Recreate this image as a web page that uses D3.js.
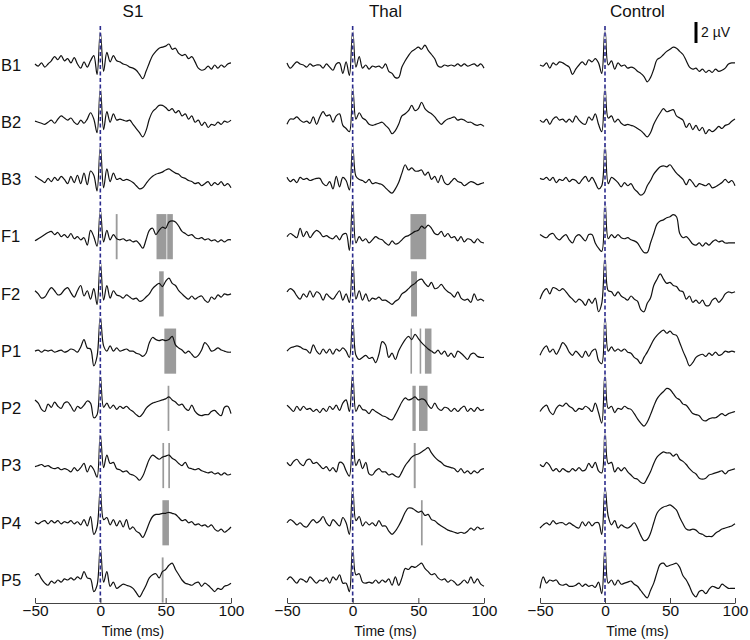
<!DOCTYPE html>
<html>
<head>
<meta charset="utf-8">
<script src="https://cdn.jsdelivr.net/npm/d3@7"></script>
<style>
  body { margin: 0; background: #fff; }
  text { font-family: "Liberation Sans", Arial, sans-serif; fill: #111; }
</style>
</head>
<body>
<div id="chart"></div>
<script>
// rows, panels and axis ticks
const rows = ["B1", "B2", "B3", "F1", "F2", "P1", "P2", "P3", "P4", "P5"];
const panels = ["S1", "Thal", "Control"];
const tickValues = [-50, 0, 50, 100];

// sampling grid of the averaged traces (ms), values below are in µV
const times = d3.range(-50, 100.01, 2.5);

// S1
const s1B1 = [0.1, -0.1, 0.2, -0.2, 0.1, 0.4, 0.8, 0.5, 0.9, 0.4,
  0.6, 0.2, 0.7, 0.1, -0.3, 0.3, -0.2, 0.4, 0.9, -0.9,
  3.2, -0.6, 1.2, 0.3, 0.9, 0.4, 0.3, 0.1, 0.0, -0.2,
  -0.3, -0.5, -0.9, -1.3, -0.6, 0.2, 0.9, 1.3, 1.6, 1.7,
  1.8, 2.0, 1.5, 1.6, 1.1, 0.9, 1.0, 0.6, 0.8, 0.3,
  -0.3, -0.5, -0.4, -0.1, -0.4, 0.0, -0.3, 0.0, -0.2, 0.1, 0.2];
const s1B2 = [0.1, 0.0, -0.1, -0.2, 0.0, 0.2, -0.1, 0.3, 0.6, 0.4,
  0.2, 0.4, 0.0, -0.2, 0.2, -0.1, 0.3, 0.9, 0.3, -1.0,
  3.3, -0.7, 1.0, 0.0, 0.8, 0.2, 0.3, 0.2, 0.1, 0.2,
  -0.2, -0.6, -1.0, -1.4, -0.8, 0.3, 1.0, 1.3, 1.6, 1.6,
  1.4, 1.1, 1.3, 0.9, 1.1, 0.6, 0.8, 0.3, 0.6, 0.0,
  0.2, -0.3, 0.0, -0.5, -0.2, -0.3, 0.0, -0.2, 0.1, 0.0, 0.2];
const s1B3 = [0.3, 0.1, -0.1, -0.3, 0.1, -0.2, 0.2, -0.1, 0.3, 0.0,
  -0.4, 0.3, -0.3, 0.4, -0.4, 0.6, -0.5, 0.8, 0.4, -1.1,
  3.2, -0.8, 1.0, -0.2, 0.6, 0.0, 0.1, -0.1, 0.0, -0.1,
  -0.3, -0.6, -0.9, -0.8, -0.4, 0.0, 0.3, 0.5, 0.6, 0.7,
  0.9, 1.0, 0.8, 0.6, 0.5, 0.2, 0.1, -0.1, -0.2, -0.4,
  -0.3, -0.6, -0.4, -0.2, -0.6, -0.3, -0.5, -0.2, -0.6, -0.4, -0.8];
const s1F1 = [-0.4, -0.2, 0.0, 0.2, 0.4, 0.5, 0.2, 0.4, 0.0, 0.2,
  -0.1, 0.3, -0.2, 0.0, -0.3, -0.1, -0.8, 0.6, 0.0, -0.9,
  2.6, -0.5, 0.6, -0.3, 0.2, -0.2, -0.3, -0.2, -0.4, -0.3,
  -0.5, -0.4, -0.7, -1.1, -0.3, 0.6, 0.8, 0.2, 0.6, 0.9,
  0.8, 1.4, 1.5, 1.4, 1.0, 0.5, 0.3, 0.1, 0.2, -0.1,
  -0.2, -0.1, -0.3, -0.2, -0.4, -0.3, -0.5, -0.3, -0.5, -0.3, -0.3];
const s1F2 = [0.3, 0.0, -0.4, -0.3, 0.2, 0.6, 0.3, -0.1, 0.0, 0.4,
  0.6, 0.1, -0.3, 0.3, 0.8, -0.2, 0.3, -0.5, 0.5, -1.0,
  3.1, -0.6, 0.8, -0.4, 0.3, -0.1, -0.2, -0.4, -0.1, -0.3,
  -0.5, -0.4, -0.7, -0.6, -0.3, 0.0, 0.5, 0.8, 1.0, 0.7,
  1.2, 1.5, 1.0, 0.8, 0.3, 0.0, -0.3, -0.5, -0.2, -0.5,
  -0.3, -0.2, -0.6, -0.8, -0.3, -0.5, -0.1, -0.3, 0.0, -0.1, 0.0];
const s1P1 = [0.0, 0.1, -0.1, 0.1, 0.0, 0.1, -0.1, 0.0, 0.1, -0.1,
  0.0, 0.2, 0.1, -0.1, 0.4, 1.1, 0.3, 0.2, -1.4, -0.5,
  3.3, 0.5, 0.0, 0.5, 0.0, 0.3, 0.0, 0.1, 0.2, 0.0,
  0.0, -0.2, -0.3, -0.5, -0.2, 0.8, 1.3, 1.1, 1.0, 1.1,
  1.0, 1.1, 1.4, 0.6, 0.3, 0.1, -0.2, 0.0, -0.3, -0.6,
  -0.4, 0.1, 0.8, 0.5, 0.0, 0.1, 0.3, 0.1, 0.0, -0.1, -0.1];
const s1P2 = [0.8, 0.5, -0.1, -0.3, 0.4, 0.1, 0.6, 0.2, 0.0, 0.5,
  0.6, 0.2, -0.3, 0.2, 0.0, 0.3, 0.7, 0.5, -0.9, -0.6,
  3.2, 0.1, 0.5, 0.0, 0.3, -0.1, 0.2, 0.0, 0.2, -0.1,
  -0.3, -0.6, -0.8, -0.5, 0.0, 0.3, 0.5, 0.6, 0.7, 0.8,
  0.9, 1.1, 0.8, 0.6, 0.3, 0.4, 0.0, -0.2, 0.3, -0.3,
  -0.6, -0.7, -0.6, -0.6, -0.3, -0.2, -0.5, -0.7, 0.1, 0.2, -0.5];
const s1P3 = [-0.1, 0.0, 0.1, -0.1, 0.0, -0.2, -0.3, -0.2, -0.4, -0.3,
  -0.4, -0.6, -0.2, -0.5, -0.2, 0.2, -0.6, 0.0, -0.4, -1.1,
  3.0, -0.2, 1.0, 0.2, 0.3, -0.3, -0.4, -0.6, -0.5, -0.8,
  -0.9, -1.1, -1.4, -1.0, -0.2, 0.6, 1.0, 0.8, 0.6, 0.8,
  0.9, 1.0, 0.7, 0.5, 0.2, 0.0, 0.3, -0.2, -0.3, -0.4,
  -0.3, -0.5, -0.6, -0.7, -0.6, -0.8, -0.7, -0.9, -0.7, -0.9, -0.8];
const s1P4 = [0.1, -0.1, 0.1, 0.2, -0.1, 0.2, 0.0, 0.2, -0.1, 0.1,
  0.0, 0.2, -0.1, 0.1, -0.2, 0.3, -0.3, 0.6, -1.1, -0.4,
  3.2, 0.3, 0.5, -0.2, 0.3, -0.3, 0.2, -0.4, 0.3, -0.6,
  -0.4, -0.8, -1.0, -1.4, -0.8, 0.0, 0.6, 0.8, 0.8, 0.9,
  0.9, 1.0, 0.9, 0.8, 0.5, 0.2, 0.3, 0.0, 0.1, -0.2,
  -0.1, -0.3, -0.2, -0.4, -0.2, -0.6, -0.8, -0.6, -0.9, -0.7, -0.4];
const s1P5 = [0.4, 0.6, 0.1, -0.3, -0.5, -0.1, -0.3, 0.0, -0.2, 0.1,
  0.0, 0.2, 0.0, 0.3, 0.1, 0.8, 0.2, 0.1, -1.1, -0.5,
  3.2, -0.2, 0.8, -0.6, -0.2, -0.8, -0.6, -0.4, -0.5, -0.6,
  -0.8, -1.2, -1.6, -1.1, -0.5, 0.2, 0.5, 0.6, 0.2, 0.8,
  1.0, 1.4, 1.6, 1.0, 0.5, 0.0, -0.3, -0.4, -0.5, -0.3,
  -0.2, -0.6, -0.3, -0.5, -0.8, -1.1, -0.8, -0.9, -0.6, -0.5, -0.3];

// Thal
const thB1 = [0.2, -0.3, 0.0, 0.3, 0.1, 0.0, -0.2, 0.1, -0.1, 0.0,
  0.0, -0.3, 0.1, -0.2, -0.5, 0.1, 0.2, -0.8, 0.3, -1.0,
  3.3, -0.2, 0.8, -0.3, 0.0, -0.4, -0.1, -0.2, -0.1, -0.3,
  0.1, -0.6, -0.8, -1.2, -1.2, -0.2, 0.4, 0.9, 1.3, 1.5,
  1.7, 1.5, 1.9, 1.4, 1.0, 0.6, -0.1, -0.2, 0.0, -0.1,
  0.0, -0.1, 0.1, -0.1, 0.1, -0.1, 0.0, 0.1, -0.1, 0.1, -0.3];
const thB2 = [-0.2, 0.3, 0.3, 0.5, 0.2, 0.0, 0.1, -0.1, 0.5, -0.2,
  0.5, 1.0, 0.6, 0.7, 0.0, 0.6, 0.8, -0.3, -0.6, -0.9,
  3.4, 0.3, 0.9, 0.4, 0.2, -0.2, -0.3, -0.2, -0.1, 0.0,
  -0.3, -0.6, -1.1, -0.8, -0.2, 0.6, 0.8, 1.1, 1.6, 1.1,
  1.3, 1.9, 1.3, 1.0, 0.8, 0.5, 0.1, -0.2, 0.1, 0.3,
  0.4, 0.5, 0.2, 0.3, 0.2, 0.0, 0.0, -0.2, -0.3, -0.2, -0.4];
const thB3 = [0.2, -0.2, 0.0, -0.3, 0.2, 0.0, 0.1, -0.1, 0.0, 0.1,
  0.1, -0.4, -0.6, -0.2, -0.9, 0.3, -0.7, 0.2, -0.1, -1.0,
  3.3, 0.3, 0.0, -0.1, -0.3, 0.0, -0.4, -0.3, -0.4, -0.5,
  -0.8, -1.1, -1.3, -0.9, -0.3, 0.6, 1.4, 0.9, 1.1, 0.8,
  0.8, 0.9, 0.4, 0.7, 0.0, 0.3, -0.3, 0.4, -0.3, -0.5,
  -0.2, 0.1, -0.2, -0.3, -0.6, -0.4, -0.2, -0.3, -0.5, -0.4, -0.3];
const thF1 = [0.0, 0.3, 0.1, -0.1, 0.8, 0.0, 0.5, -0.1, 0.3, 0.6,
  0.4, 0.0, 0.1, -0.1, -0.2, 0.1, -0.3, 0.2, 0.3, -1.3,
  3.6, -0.6, 0.0, -0.4, -0.2, -0.6, -0.3, 0.0, -0.2, -0.3,
  -0.6, -0.8, -0.4, -0.7, -0.6, -0.3, 0.0, 0.1, 0.3, 0.5,
  0.6, 1.0, 0.8, 1.1, 0.8, 0.3, 0.2, 0.5, 0.0, 0.3,
  -0.1, 0.0, -0.4, 0.0, -0.5, -0.2, -0.3, -0.6, -0.2, -0.5, -0.6];
const thF2 = [0.2, 0.5, 0.3, -0.2, -0.5, 0.0, -0.3, 0.3, -0.3, 0.2,
  0.0, -0.6, 0.0, -0.3, -0.5, -0.1, 0.3, -0.6, 0.0, -0.8,
  3.4, -0.5, 0.3, -0.6, 0.0, -0.7, -0.4, -0.5, -0.3, -0.6,
  -0.6, -0.8, -1.0, -0.7, -0.5, 0.0, 0.2, 0.5, 0.8, 1.0,
  1.3, 1.4, 1.0, 0.7, 1.1, 0.5, 0.6, 0.9, 0.5, 0.2,
  0.0, -0.3, 0.2, -0.4, -0.6, -0.5, -0.8, 0.0, -0.6, -0.5, -0.7];
const thP1 = [0.0, 0.3, 0.4, 0.5, 0.4, 0.2, 0.1, -0.2, 0.6, 0.0,
  -0.3, 0.2, -0.2, 0.2, -0.3, 0.2, 0.0, 0.3, 0.0, -0.6,
  3.2, -0.4, -0.8, -0.6, -0.4, -0.7, -0.6, -1.1, -0.3, 0.9,
  0.6, -0.6, -0.2, -0.8, 0.0, 0.6, 1.1, 1.4, 1.1, 1.6,
  1.2, 0.8, 0.5, 0.2, 0.0, -0.2, 0.1, -0.3, 0.0, -0.5,
  -0.2, -0.6, 0.0, -0.2, -0.5, -0.8, -0.3, -0.2, -0.5, -0.6, -0.6];
const thP2 = [0.3, 0.0, -0.3, 0.2, -0.2, 0.2, -0.1, 0.0, -0.3, -0.1,
  -0.4, 0.0, -0.3, 0.2, -0.1, 0.3, -0.2, 0.5, 0.8, -0.3,
  3.3, -0.3, 0.3, -0.1, -0.2, -0.5, -0.1, -0.3, -0.5, -0.7,
  -0.8, -1.0, -1.1, -0.6, 0.0, 0.6, 1.0, 0.8, 0.9, 1.1,
  0.8, 0.9, 0.8, 0.3, 0.0, 0.5, 0.0, -0.2, 0.1, 0.0,
  -0.3, 0.0, -0.3, 0.0, 0.2, -0.3, 0.0, -0.3, 0.1, -0.2, -0.1];
const thP3 = [0.3, 0.0, 0.4, 0.6, 0.2, 0.0, 0.5, 0.6, 0.2, 0.3,
  0.0, -0.3, -0.1, -0.5, -0.2, -0.6, 0.3, 0.2, -0.5, -1.0,
  3.2, 0.0, 0.6, -0.3, 0.3, -0.8, -0.9, -0.5, -0.3, -0.6,
  -0.6, -0.9, -0.8, -1.0, -1.1, -0.6, 0.0, 0.4, 0.8, 1.0,
  1.1, 1.3, 1.5, 1.7, 1.2, 0.8, 0.5, 0.3, 0.0, -0.1,
  -0.2, -0.3, -0.6, -0.3, -0.7, -0.5, -0.8, -0.5, -0.7, -0.4, -0.3];
const thP4 = [0.0, 0.3, 0.1, -0.2, 0.0, -0.3, -0.4, 0.0, 0.3, 0.0,
  0.2, 0.6, 0.0, -0.3, 0.3, 0.0, -0.3, 0.5, 0.0, -1.1,
  3.4, 0.2, 0.6, -0.3, 0.1, -0.2, 0.0, -0.3, 0.2, -0.3,
  -0.3, -0.8, -1.1, -0.8, -0.3, 0.3, 1.0, 1.4, 1.4, 1.2,
  1.0, 1.1, 0.7, 0.8, 0.3, 0.2, -0.1, -0.3, -0.5, -0.7,
  -0.8, -0.9, -1.0, -0.9, -1.0, -0.8, -0.5, -0.7, -0.4, -0.6, -0.5];
const thP5 = [0.0, 0.3, 0.0, -0.3, 0.1, 0.0, -0.2, 0.3, 0.0, -0.3,
  0.0, -0.1, 0.2, -0.3, 0.3, 0.0, 0.5, -0.3, -0.3, -1.1,
  3.3, 0.5, 0.6, -0.2, -0.3, -0.2, -0.3, 0.0, -0.3, 0.0,
  -0.2, 0.1, -0.5, 0.3, -0.5, 0.2, 1.1, 1.0, 1.3, 1.2,
  1.4, 1.6, 1.1, 0.8, 0.5, 0.6, 0.2, 0.0, 0.1, -0.2,
  0.0, -0.2, -0.5, -0.3, 0.0, -0.3, 0.3, -0.3, 0.1, -0.4, -0.6];

// Control
const ctB1 = [0.0, -0.1, 0.2, -0.3, 0.2, 0.0, 0.3, 0.2, 0.0, -0.2,
  -0.9, -0.4, 0.0, 0.3, 0.0, 0.5, 0.3, 0.6, 0.2, -0.8,
  3.5, 0.0, 0.4, -0.4, 0.2, -0.1, 0.0, -0.3, -0.2, -0.3,
  -0.6, -0.8, -1.1, -1.6, -1.2, -0.4, 0.5, 0.7, 1.0, 1.3,
  1.5, 1.7, 1.6, 1.3, 1.0, 0.4, -0.2, -0.4, -0.3, -0.6,
  -0.4, -0.7, -0.5, -0.7, -0.4, -0.6, -0.5, -0.3, 0.1, 0.2, 0.2];
const ctB2 = [0.2, 0.0, 0.3, -0.2, 0.3, 0.5, 0.2, 0.3, 0.0, 0.3,
  0.0, 0.6, 0.2, -0.1, -0.2, 0.5, 0.2, 0.8, -0.2, -0.9,
  3.4, 0.4, 0.6, 0.0, 0.3, -0.1, -0.3, -0.2, -0.3, -0.4,
  -0.6, -0.8, -1.1, -1.4, -1.0, -0.2, 0.4, 0.9, 1.3, 1.0,
  1.1, 1.2, 0.6, 0.4, 0.2, -0.5, -0.1, -0.7, -0.3, -0.8,
  -0.5, -1.1, -0.7, -0.9, -0.7, -0.4, -0.6, -0.3, -0.2, 0.1, 0.3];
const ctB3 = [0.1, 0.0, 0.2, -0.1, 0.2, -0.3, 0.0, -0.1, 0.2, -0.2,
  0.0, -0.1, -0.4, 0.0, 0.3, -0.2, 0.2, -0.3, -0.9, -0.6,
  3.4, -0.4, 0.2, 0.0, -0.3, -0.7, -0.3, -0.6, -0.4, -0.9,
  -1.2, -1.5, -1.3, -0.6, -0.1, 0.5, 0.9, 1.2, 1.3, 1.2,
  1.4, 1.0, 0.6, 0.3, 0.0, -0.5, 0.0, -0.3, -0.7, -0.4,
  -0.5, -0.6, -0.4, -0.8, -0.7, -0.5, -0.3, 0.0, -0.3, -0.1, -0.6];
const ctF1 = [0.2, 0.0, -0.1, 0.2, 0.3, -0.1, -0.3, 0.0, 0.2, -0.3,
  -0.6, 0.0, 0.2, -0.1, -0.4, 0.2, 0.2, -0.6, -1.1, -1.4,
  3.4, -0.2, 0.2, -0.1, 0.2, -0.1, -0.2, -0.1, -0.3, -0.4,
  -0.6, -1.1, -1.5, -1.5, -0.6, 0.3, 1.2, 1.5, 1.6, 1.8,
  1.9, 2.1, 1.9, 0.3, -0.1, 0.0, -0.3, -0.7, -0.8, -0.6,
  -0.9, -0.6, -0.8, -0.5, -0.3, -0.5, -0.4, -0.6, -0.6, -0.6, -0.6];
const ctF2 = [-0.5, 0.2, 0.5, 0.0, 0.6, 0.5, 0.3, 0.5, 0.2, -0.2,
  -0.5, -0.8, -0.5, -0.7, -1.1, -0.5, -0.9, -0.4, -1.7, -0.9,
  3.6, 0.3, 0.2, -0.2, 0.2, -0.2, -0.4, -0.6, -0.2, -0.5,
  -0.7, -1.5, -1.7, -0.9, -0.4, 0.8, 1.4, 1.9, 1.4, 1.0,
  1.1, 0.8, 0.7, 0.3, 0.2, -0.5, -0.2, -0.8, -0.6, -0.9,
  -0.6, -1.1, -1.1, -0.6, -0.4, -0.8, -0.5, 0.0, 0.2, 0.1, 0.2];
const ctP1 = [-0.4, 0.2, 0.5, -0.1, 0.2, -0.3, 0.2, 0.8, 0.5, -0.1,
  -0.4, 0.0, -0.3, -0.6, 0.0, -0.5, 0.0, 0.2, -0.9, -1.2,
  3.3, 0.0, 0.4, 0.0, 0.2, 0.0, 0.2, -0.1, -0.2, -0.6,
  -0.8, -1.2, -0.6, -0.1, 0.5, 1.1, 1.5, 1.8, 2.0, 1.7,
  1.9, 1.6, 1.5, 0.8, 0.0, -0.7, -1.4, -1.1, -0.6, -0.4,
  -0.3, -0.5, -0.2, -0.4, -0.1, -0.4, -0.3, 0.0, -0.1, 0.0, -0.1];
const ctP2 = [-0.3, 0.1, 0.3, -0.3, -0.6, 0.0, 0.3, 0.2, 0.5, 0.2,
  0.0, -0.3, 0.0, -0.1, 0.2, 0.0, -0.3, 0.5, -0.4, -1.4,
  3.4, 0.0, 0.2, -0.4, 0.0, -0.1, 0.2, 0.0, -0.1, -0.5,
  -1.0, -1.4, -1.7, -1.3, -0.6, 0.2, 0.9, 1.3, 1.6, 1.9,
  1.8, 1.4, 1.0, 0.8, 0.4, 0.3, -0.1, -0.5, -0.6, -0.7,
  -1.1, -1.2, -1.0, -0.9, -0.9, -0.7, -0.5, -0.7, -0.5, -0.4, -0.3];
const ctP3 = [0.1, -0.1, 0.3, 0.0, -0.5, -0.3, -0.6, -0.3, -0.5, -0.6,
  -0.3, -0.5, -0.2, -0.5, -0.4, 0.2, -0.2, 0.3, -0.5, -0.7,
  3.3, 0.2, 0.3, -0.6, -0.2, -0.5, -0.2, -0.6, -0.9, -1.2,
  -1.3, -1.6, -1.7, -1.2, -0.6, 0.2, 0.8, 1.1, 1.3, 1.2,
  1.2, 0.9, 1.1, 0.6, 0.4, 0.1, -0.3, -0.6, -0.8, -1.2,
  -1.3, -1.2, -0.9, -0.8, -0.7, -0.6, -0.5, -0.8, -0.5, -0.4, -0.3];
const ctP4 = [-0.5, -0.2, 0.0, -0.2, 0.2, -0.1, 0.0, 0.0, -0.2, 0.0,
  -0.2, -0.4, -0.5, 0.1, -0.3, 0.1, -0.3, 0.0, 0.0, -1.1,
  3.4, 0.6, -0.2, 0.2, -0.5, -0.2, -0.4, -0.5, -0.3, 0.0,
  -0.5, -1.2, -1.7, -1.6, -1.0, 0.0, 0.9, 1.3, 1.5, 1.6,
  1.7, 1.5, 1.2, 0.5, -0.1, -0.6, -0.7, -0.6, -0.7, -1.0,
  -1.1, -1.3, -1.3, -1.3, -1.0, -0.8, -0.6, -0.5, -0.4, -0.3, -0.1];
const ctP5 = [-0.8, 0.3, -0.3, 0.0, -0.1, 0.0, -0.4, -0.5, -0.4, -0.6,
  -0.6, -0.5, -0.3, -0.6, -0.4, -0.6, -0.5, -0.7, -0.2, -1.3,
  3.2, -0.3, 0.0, -0.5, 0.0, -0.4, -0.3, -0.2, -0.1, -0.4,
  -0.6, -1.0, -1.4, -1.7, -1.0, -0.3, 0.7, 1.5, 1.6, 1.3,
  1.4, 1.5, 1.6, 1.2, 0.4, 0.0, -0.6, -1.3, -1.6, -1.1,
  -1.0, -1.3, -0.9, -0.6, -0.7, -0.8, -0.4, -0.6, -0.8, -0.8, -0.8];

const traces = [
  [s1B1, s1B2, s1B3, s1F1, s1F2, s1P1, s1P2, s1P3, s1P4, s1P5],
  [thB1, thB2, thB3, thF1, thF2, thP1, thP2, thP3, thP4, thP5],
  [ctB1, ctB2, ctB3, ctF1, ctF2, ctP1, ctP2, ctP3, ctP4, ctP5],
];

// significant windows (ms): [row, from, to]
const s1Windows = [["F1", 11.8, 13.2], ["F1", 43, 50.6], ["F1", 51.2, 55.5], ["F2", 45, 48.5],
  ["P1", 49, 58], ["P2", 51.5, 52.8], ["P3", 47.5, 48.8], ["P3", 52, 53.3],
  ["P4", 47.5, 52.5], ["P5", 47, 48.4]];
const thWindows = [["F1", 44, 56], ["F2", 44.5, 49], ["P1", 44, 45.2], ["P1", 51, 52.2],
  ["P1", 55, 60], ["P2", 45.5, 48], ["P2", 50.5, 57], ["P3", 46.5, 48], ["P4", 52, 53.3]];
const ctWindows = [];
const windows = [s1Windows, thWindows, ctWindows];

const width = 750, height = 640;
const panelX = [[35, 231], [287, 484], [540, 735]];
const axisY = 603;

const svg = d3.select("#chart").append("svg")
  .attr("width", width)
  .attr("height", height);

const y = d3.scalePoint().domain(rows).range([65, 580]);
// 2 µV scale bar is ~21 px
const amp = d3.scaleLinear().domain([0, 1]).range([0, -10.5]);

// row labels
svg.append("g").selectAll("text")
  .data(rows)
  .join("text")
  .attr("x", 1)
  .attr("y", (d) => y(d))
  .attr("dy", "0.35em")
  .style("font-size", "16.5px")
  .text((d) => d);

panels.forEach((name, p) => {
  const x = d3.scaleLinear().domain([-50, 100]).range(panelX[p]);
  const g = svg.append("g");

  g.append("text")
    .attr("x", x(25))
    .attr("y", 11)
    .attr("dy", "0.35em")
    .attr("text-anchor", "middle")
    .style("font-size", "17px")
    .text(name);

  // gray windows
  g.append("g").selectAll("rect")
    .data(windows[p])
    .join("rect")
    .attr("x", (d) => x(d[1]))
    .attr("width", (d) => x(d[2]) - x(d[1]))
    .attr("y", (d) => y(d[0]) + amp(2.15))
    .attr("height", amp(0) - amp(4.3))
    .attr("fill", "#9b9b9b");

  // traces
  traces[p].forEach((vals, r) => {
    const line = d3.line()
      .x((d, i) => x(times[i]))
      .y((d) => y(rows[r]) + amp(d))
      .curve(d3.curveCatmullRom.alpha(0.5));
    g.append("path")
      .datum(vals)
      .attr("fill", "none")
      .attr("stroke", "#111")
      .attr("stroke-width", 1.2)
      .attr("d", line);
  });

  // stimulus onset
  g.append("line")
    .attr("x1", x(0)).attr("x2", x(0))
    .attr("y1", 26).attr("y2", axisY)
    .attr("stroke", "#fff")
    .attr("stroke-width", 1.6);
  g.append("line")
    .attr("x1", x(0)).attr("x2", x(0))
    .attr("y1", 26).attr("y2", axisY)
    .attr("stroke", "#2c2c8e")
    .attr("stroke-width", 1.6)
    .attr("stroke-dasharray", "4,2.5");

  const xAxis = g.append("g")
    .attr("transform", `translate(0,${axisY})`)
    .call(d3.axisBottom(x).tickValues(tickValues).tickSizeInner(-5).tickSizeOuter(0).tickPadding(2));
  xAxis.select(".domain").attr("stroke", "#444");
  xAxis.selectAll(".tick line").attr("stroke", "#444");
  xAxis.selectAll("text")
    .style("font-size", "15.5px")
    .style("font-family", "'Liberation Sans', Arial, sans-serif")
    .attr("fill", "#111");

  g.append("text")
    .attr("x", x(25))
    .attr("y", 631)
    .attr("dy", "0.35em")
    .attr("text-anchor", "middle")
    .style("font-size", "14px")
    .text("Time (ms)");
});

// scale bar
svg.append("line")
  .attr("x1", 696).attr("x2", 696)
  .attr("y1", 22).attr("y2", 22 + amp(0) - amp(2))
  .attr("stroke", "#000")
  .attr("stroke-width", 3);
svg.append("text")
  .attr("x", 701)
  .attr("y", 32)
  .attr("dy", "0.35em")
  .style("font-size", "14px")
  .text("2 µV");
</script>
</body>
</html>
